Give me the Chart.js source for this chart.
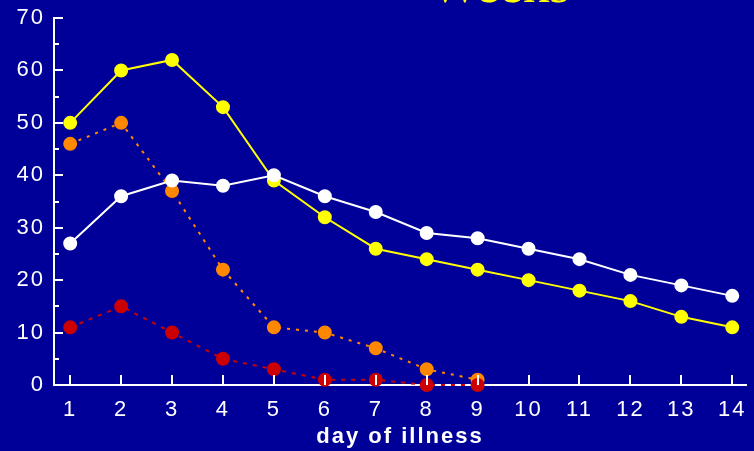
<!DOCTYPE html>
<html>
<head>
<meta charset="utf-8">
<script src="https://cdn.jsdelivr.net/npm/chart.js@4/dist/chart.umd.min.js"></script>
<style>
  html, body { margin: 0; padding: 0; background: #000099; overflow: hidden; }
  #wrap { position: relative; width: 754px; height: 451px; background: #000099; }
  #title { position: absolute; left: 430px; top: -43px; font-family: "Liberation Serif", "DejaVu Serif", serif; font-size: 53px; line-height: 54px; color: #FFFF00; white-space: nowrap; }
  canvas { position: absolute; left: 0; top: 0; }
</style>
</head>
<body>
<div id="wrap">
  <canvas id="c" width="754" height="451"></canvas>
  <div id="title">Weeks</div>
</div>
<script>
const days = [1, 2, 3, 4, 5, 6, 7, 8, 9, 10, 11, 12, 13, 14];
const yMajorTicks = [0, 10, 20, 30, 40, 50, 60, 70];
const yMinorTicks = [5, 15, 25, 35, 45, 55, 65];
const whiteSeries  = [27, 36, 39, 38, 40, 36, 33, 29, 28, 26, 24, 21, 19, 17];
const yellowSeries = [50, 60, 62, 53, 39, 32, 26, 24, 22, 20, 18, 16, 13, 11];
const orangeSeries = [46, 50, 37, 22, 11, 10, 7, 3, 1];
const redSeries    = [11, 15, 10, 5, 3, 1, 1, 0, 0];
const xTitle = "day of illness";

const toPts = (arr) => arr.map((v, i) => ({ x: days[i], y: v }));

const spacingPlugin = {
  id: 'spacing',
  beforeLayout(chart) { chart.ctx.letterSpacing = '2px'; },
  beforeDraw(chart) { chart.ctx.letterSpacing = '2px'; }
};

const inwardTicks = {
  id: 'inwardTicks',
  afterDraw(chart) {
    const ctx = chart.ctx;
    const xs = chart.scales.x, ys = chart.scales.y;
    const left = chart.chartArea.left, bottom = chart.chartArea.bottom;
    ctx.save();
    ctx.strokeStyle = '#FFFFFF';
    ctx.lineWidth = 2;
    ctx.beginPath();
    yMajorTicks.forEach(v => {
      const py = Math.round(ys.getPixelForValue(v));
      ctx.moveTo(left, py); ctx.lineTo(left + 9, py);
    });
    yMinorTicks.forEach(v => {
      const py = Math.round(ys.getPixelForValue(v));
      ctx.moveTo(left, py); ctx.lineTo(left + 5, py);
    });
    days.forEach(d => {
      const px = Math.round(xs.getPixelForValue(d));
      ctx.moveTo(px, bottom); ctx.lineTo(px, bottom - 10);
    });
    ctx.stroke();
    ctx.restore();
  }
};

const baseDs = { pointRadius: 6, pointHoverRadius: 6, borderWidth: 2, clip: false, tension: 0 };

new Chart(document.getElementById('c'), {
  type: 'line',
  data: {
    datasets: [
      Object.assign({}, baseDs, { label: 'white', data: toPts(whiteSeries), borderColor: '#FFFFFF', backgroundColor: '#FFFFFF', pointBackgroundColor: '#FFFFFF', pointBorderColor: '#FFFFFF' }),
      Object.assign({}, baseDs, { label: 'red', data: toPts(redSeries), borderColor: '#CC0000', backgroundColor: '#CC0000', pointBackgroundColor: '#CC0000', pointBorderColor: '#CC0000', borderDash: [4, 6] }),
      Object.assign({}, baseDs, { label: 'orange', data: toPts(orangeSeries), borderColor: '#FF8800', backgroundColor: '#FF8800', pointBackgroundColor: '#FF8800', pointBorderColor: '#FF8800', borderDash: [3, 6] }),
      Object.assign({}, baseDs, { label: 'yellow', data: toPts(yellowSeries), borderColor: '#FFFF00', backgroundColor: '#FFFF00', pointBackgroundColor: '#FFFF00', pointBorderColor: '#FFFF00' })
    ]
  },
  options: {
    responsive: false,
    animation: false,
    events: [],
    layout: { padding: { left: 0, right: 0, top: 18, bottom: 0 } },
    plugins: { legend: { display: false }, tooltip: { enabled: false }, title: { display: false } },
    scales: {
      x: {
        type: 'linear',
        z: 1,
        min: 0.682,
        max: 14.27,
        afterBuildTicks: (s) => { s.ticks = days.map(v => ({ value: v })); },
        afterFit: (s) => { s.height = 66; s.paddingLeft = 0; s.paddingRight = 0; },
        grid: { display: true, drawOnChartArea: false, drawTicks: false, color: 'rgba(0,0,0,0)' },
        border: { display: true, color: '#FFFFFF', width: 2 },
        ticks: { color: '#FFFFFF', padding: 12, maxRotation: 0, autoSkip: false, font: { family: 'Liberation Sans, Arial, sans-serif', size: 22 } },
        title: { display: true, text: xTitle, color: '#FFFFFF', padding: { top: 0, bottom: 1 }, font: { family: 'Liberation Sans, Arial, sans-serif', size: 22, weight: 'bold' } }
      },
      y: {
        z: 1,
        min: 0,
        max: 70,
        afterBuildTicks: (s) => { s.ticks = yMajorTicks.map(v => ({ value: v })); },
        afterFit: (s) => { s.width = 54; s.paddingTop = 0; s.paddingBottom = 0; },
        grid: { display: true, drawOnChartArea: false, drawTicks: false, color: 'rgba(0,0,0,0)' },
        border: { display: true, color: '#FFFFFF', width: 2 },
        ticks: { color: '#FFFFFF', padding: 9, font: { family: 'Liberation Sans, Arial, sans-serif', size: 22 } }
      }
    }
  },
  plugins: [spacingPlugin, inwardTicks]
});
</script>
</body>
</html>
